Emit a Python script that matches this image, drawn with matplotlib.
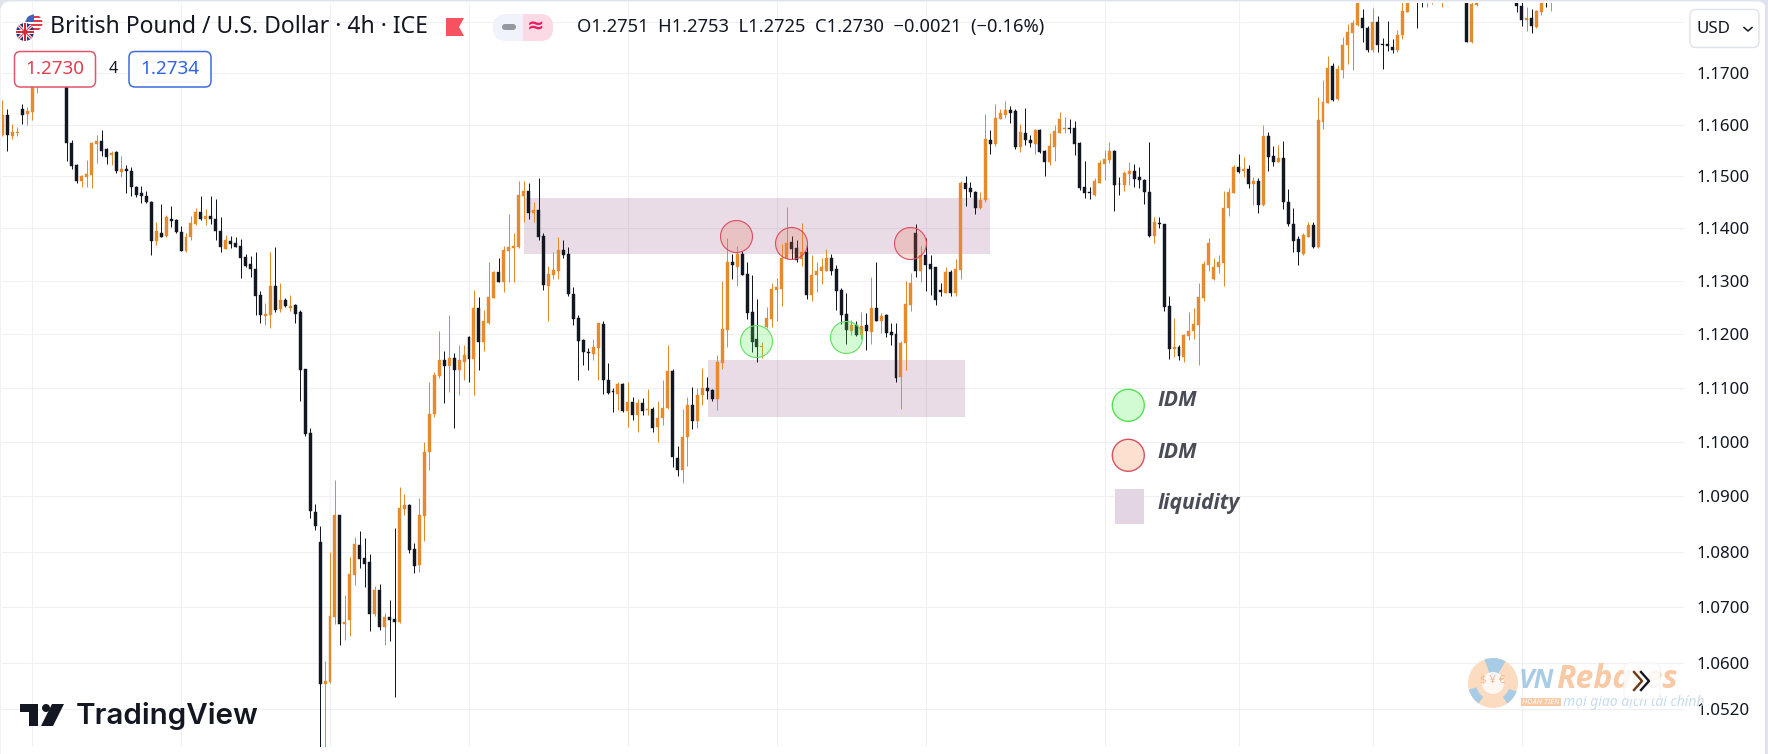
import matplotlib
matplotlib.use("Agg")
import matplotlib.pyplot as plt
from matplotlib.patches import Circle, FancyBboxPatch, Polygon, Rectangle, Wedge
from matplotlib.ticker import NullLocator, FixedLocator, FixedFormatter

opens = [
1.1579,1.1618,1.1578,1.1583,1.1630,1.1620,1.1625,1.1680,1.1705,1.1715,
1.1700,1.1710,1.1720,1.1710,1.1565,1.1521,1.1491,1.1499,1.1503,1.1563,
1.1568,1.1552,1.1541,1.1547,1.1509,1.1515,1.1510,1.1480,1.1468,1.1462,
1.1451,1.1377,1.1391,1.1386,1.1418,1.1416,1.1394,1.1357,1.1383,1.1408,
1.1431,1.1418,1.1424,1.1419,1.1396,1.1361,1.1377,1.1372,1.1367,1.1345,
1.1333,1.1323,1.1273,1.1234,1.1237,1.1291,1.1248,1.1265,1.1250,1.1255,
1.1241,1.1135,1.1017,1.0871,1.0818,1.0563,1.0567,1.0683,1.0866,1.0669,
1.0677,1.0757,1.0811,1.0788,1.0781,1.0688,1.0731,1.0664,1.0682,1.0678,
1.0673,1.0877,1.0884,1.0804,1.0776,1.0865,1.0981,1.1051,1.1122,1.1151,
1.1140,1.1156,1.1133,1.1149,1.1195,1.1154,1.1250,1.1186,1.1221,1.1269,
1.1318,1.1299,1.1358,1.1363,1.1365,1.1463,1.1471,1.1429,1.1435,1.1386,
1.1290,1.1311,1.1320,1.1359,1.1351,1.1276,1.1231,1.1190,1.1166,1.1163,
1.1175,1.1220,1.1115,1.1095,1.1088,1.1108,1.1057,1.1074,1.1049,1.1072,
1.1059,1.1060,1.1028,1.1044,1.1062,1.1132,1.0971,1.0949,1.1009,1.1069,
1.1039,1.1086,1.1100,1.1096,1.1079,1.1147,1.1208,1.1336,1.1327,1.1352,
1.1314,1.1241,1.1191,1.1176,1.1213,1.1229,1.1283,1.1286,1.1343,1.1374,
1.1363,1.1341,1.1356,1.1274,1.1311,1.1319,1.1320,1.1343,1.1323,1.1284,
1.1238,1.1206,1.1217,1.1199,1.1217,1.1205,1.1249,1.1224,1.1236,1.1204,
1.1200,1.1121,1.1183,1.1255,1.1391,1.1319,1.1350,1.1332,1.1326,1.1284,
1.1278,1.1318,1.1277,1.1321,1.1487,1.1478,1.1470,1.1439,1.1455,1.1571,
1.1563,1.1610,1.1618,1.1628,1.1626,1.1557,1.1583,1.1571,1.1563,1.1589,
1.1549,1.1528,1.1557,1.1584,1.1592,1.1593,1.1593,1.1565,1.1479,1.1469,
1.1464,1.1488,1.1523,1.1531,1.1549,1.1486,1.1483,1.1504,1.1510,1.1498,
1.1493,1.1470,1.1385,1.1411,1.1408,1.1253,1.1173,1.1177,1.1158,1.1197,
1.1206,1.1218,1.1268,1.1331,1.1304,1.1326,1.1334,1.1440,1.1468,1.1517,
1.1510,1.1514,1.1485,1.1491,1.1444,1.1578,1.1539,1.1528,1.1535,1.1451,
1.1409,1.1380,1.1352,1.1384,1.1406,1.1364,1.1605,1.1642,1.1714,1.1649,
1.1707,1.1755,1.1780,1.1795,1.1809,1.1789,1.1746,1.1801,1.1757,1.1758,
1.1751,1.1746,1.1776,1.1821,1.1850,1.1870,1.1868,1.1850,1.1860,1.1870,
1.1880,1.1895,1.1880,1.1870,1.1885,1.1875,1.1761,1.1834,1.1842,1.1860,
1.1870,1.1860,1.1875,1.1865,1.1855,1.1838,1.1833,1.1804,1.1808,1.1791,
1.1820,1.1850,1.1845]
highs = [
1.1648,1.1631,1.1602,1.1596,1.1640,1.1635,1.1700,1.1720,1.1730,1.1735,
1.1725,1.1735,1.1738,1.1720,1.1571,1.1524,1.1503,1.1531,1.1567,1.1580,
1.1589,1.1554,1.1549,1.1549,1.1539,1.1522,1.1517,1.1481,1.1481,1.1471,
1.1452,1.1413,1.1447,1.1426,1.1443,1.1419,1.1404,1.1391,1.1423,1.1440,
1.1462,1.1437,1.1462,1.1456,1.1421,1.1387,1.1386,1.1383,1.1380,1.1352,
1.1347,1.1356,1.1281,1.1258,1.1355,1.1365,1.1297,1.1268,1.1274,1.1256,
1.1245,1.1135,1.1025,1.0887,1.0846,1.0604,1.0800,1.0931,1.0867,1.0722,
1.0790,1.0827,1.0838,1.0825,1.0795,1.0738,1.0741,1.0689,1.0713,1.0842,
1.0917,1.0904,1.0887,1.0816,1.0898,1.1000,1.1110,1.1129,1.1206,1.1169,
1.1236,1.1165,1.1180,1.1180,1.1196,1.1284,1.1270,1.1246,1.1336,1.1320,
1.1343,1.1367,1.1428,1.1391,1.1491,1.1490,1.1488,1.1451,1.1496,1.1391,
1.1328,1.1356,1.1383,1.1379,1.1365,1.1289,1.1236,1.1192,1.1175,1.1191,
1.1222,1.1225,1.1146,1.1100,1.1110,1.1109,1.1111,1.1083,1.1079,1.1082,
1.1097,1.1064,1.1075,1.1115,1.1179,1.1135,1.0992,1.1060,1.1083,1.1101,
1.1099,1.1136,1.1120,1.1097,1.1162,1.1301,1.1381,1.1351,1.1366,1.1357,
1.1336,1.1311,1.1267,1.1186,1.1252,1.1296,1.1306,1.1370,1.1441,1.1386,
1.1378,1.1410,1.1370,1.1349,1.1337,1.1343,1.1360,1.1351,1.1330,1.1287,
1.1277,1.1227,1.1224,1.1241,1.1239,1.1307,1.1337,1.1239,1.1238,1.1221,
1.1222,1.1188,1.1301,1.1315,1.1408,1.1366,1.1382,1.1350,1.1327,1.1296,
1.1326,1.1322,1.1342,1.1490,1.1501,1.1489,1.1471,1.1469,1.1620,1.1589,
1.1640,1.1631,1.1646,1.1636,1.1631,1.1602,1.1633,1.1579,1.1592,1.1592,
1.1551,1.1583,1.1599,1.1624,1.1614,1.1610,1.1606,1.1567,1.1529,1.1480,
1.1496,1.1531,1.1551,1.1567,1.1551,1.1499,1.1511,1.1527,1.1524,1.1517,
1.1495,1.1567,1.1421,1.1421,1.1409,1.1271,1.1231,1.1180,1.1200,1.1242,
1.1250,1.1296,1.1338,1.1381,1.1343,1.1350,1.1471,1.1477,1.1521,1.1543,
1.1538,1.1521,1.1498,1.1496,1.1599,1.1586,1.1559,1.1560,1.1568,1.1475,
1.1440,1.1386,1.1391,1.1413,1.1413,1.1653,1.1687,1.1733,1.1720,1.1716,
1.1771,1.1797,1.1805,1.1842,1.1826,1.1793,1.1828,1.1813,1.1769,1.1802,
1.1767,1.1786,1.1842,1.1842,1.1880,1.1885,1.1880,1.1880,1.1885,1.1900,
1.1905,1.1910,1.1900,1.1895,1.1900,1.1885,1.1842,1.1842,1.1870,1.1880,
1.1890,1.1880,1.1895,1.1885,1.1875,1.1860,1.1850,1.1830,1.1826,1.1825,
1.1850,1.1870,1.1870]
lows = [
1.1578,1.1549,1.1572,1.1578,1.1601,1.1599,1.1608,1.1662,1.1690,1.1695,
1.1685,1.1695,1.1700,1.1529,1.1515,1.1487,1.1480,1.1480,1.1478,1.1525,
1.1539,1.1524,1.1522,1.1507,1.1499,1.1467,1.1462,1.1461,1.1449,1.1449,
1.1350,1.1369,1.1383,1.1384,1.1403,1.1391,1.1357,1.1355,1.1379,1.1406,
1.1416,1.1406,1.1408,1.1379,1.1355,1.1360,1.1362,1.1364,1.1305,1.1327,
1.1307,1.1236,1.1221,1.1218,1.1211,1.1241,1.1242,1.1251,1.1243,1.1222,
1.1075,1.1010,1.0861,1.0839,1.0452,1.0452,1.0565,1.0670,1.0632,1.0642,
1.0649,1.0739,1.0771,1.0736,1.0658,1.0685,1.0660,1.0632,1.0640,1.0540,
1.0672,1.0866,1.0798,1.0761,1.0763,1.0820,1.0948,1.1046,1.1119,1.1071,
1.1093,1.1025,1.1086,1.1115,1.1110,1.1086,1.1134,1.1169,1.1219,1.1268,
1.1298,1.1280,1.1299,1.1299,1.1362,1.1413,1.1418,1.1413,1.1378,1.1284,
1.1225,1.1304,1.1304,1.1344,1.1271,1.1218,1.1114,1.1143,1.1134,1.1151,
1.1115,1.1089,1.1088,1.1055,1.1058,1.1056,1.1028,1.1041,1.1019,1.1050,
1.1050,1.1018,1.0999,1.1031,1.1061,1.0954,1.0937,1.0924,1.0955,1.1024,
1.1025,1.1069,1.1079,1.1076,1.1058,1.1135,1.1177,1.1304,1.1290,1.1311,
1.1229,1.1166,1.1149,1.1155,1.1211,1.1214,1.1224,1.1253,1.1342,1.1342,
1.1336,1.1329,1.1266,1.1262,1.1279,1.1295,1.1319,1.1311,1.1245,1.1220,
1.1182,1.1199,1.1196,1.1191,1.1170,1.1182,1.1224,1.1202,1.1195,1.1179,
1.1110,1.1060,1.1133,1.1243,1.1307,1.1298,1.1281,1.1273,1.1255,1.1271,
1.1277,1.1272,1.1272,1.1304,1.1443,1.1460,1.1428,1.1437,1.1450,1.1543,
1.1559,1.1610,1.1613,1.1603,1.1553,1.1547,1.1560,1.1556,1.1543,1.1544,
1.1501,1.1521,1.1530,1.1583,1.1583,1.1584,1.1541,1.1474,1.1458,1.1456,
1.1462,1.1487,1.1493,1.1525,1.1434,1.1464,1.1471,1.1483,1.1480,1.1477,
1.1447,1.1384,1.1373,1.1400,1.1243,1.1154,1.1157,1.1151,1.1149,1.1189,
1.1191,1.1142,1.1262,1.1320,1.1303,1.1316,1.1290,1.1424,1.1467,1.1507,
1.1499,1.1478,1.1444,1.1429,1.1443,1.1511,1.1520,1.1527,1.1438,1.1404,
1.1355,1.1331,1.1350,1.1383,1.1362,1.1362,1.1592,1.1641,1.1645,1.1648,
1.1690,1.1718,1.1706,1.1793,1.1762,1.1741,1.1741,1.1741,1.1709,1.1743,
1.1739,1.1741,1.1768,1.1820,1.1845,1.1789,1.1831,1.1830,1.1836,1.1860,
1.1831,1.1870,1.1860,1.1855,1.1860,1.1762,1.1759,1.1833,1.1840,1.1850,
1.1855,1.1850,1.1860,1.1850,1.1845,1.1820,1.1792,1.1784,1.1779,1.1789,
1.1814,1.1831,1.1823]
closes = [
1.1618,1.1579,1.1585,1.1585,1.1618,1.1626,1.1680,1.1705,1.1715,1.1700,
1.1710,1.1720,1.1705,1.1565,1.1519,1.1491,1.1500,1.1504,1.1565,1.1569,
1.1549,1.1538,1.1545,1.1510,1.1515,1.1511,1.1480,1.1464,1.1462,1.1451,
1.1377,1.1395,1.1384,1.1421,1.1415,1.1394,1.1358,1.1383,1.1410,1.1432,
1.1419,1.1424,1.1418,1.1396,1.1365,1.1378,1.1370,1.1365,1.1343,1.1329,
1.1323,1.1271,1.1236,1.1238,1.1291,1.1246,1.1265,1.1254,1.1254,1.1238,
1.1133,1.1014,1.0873,1.0846,1.0563,1.0568,1.0684,1.0866,1.0669,1.0674,
1.0760,1.0813,1.0786,1.0778,1.0688,1.0731,1.0664,1.0682,1.0677,1.0674,
1.0879,1.0884,1.0803,1.0774,1.0866,1.0982,1.1052,1.1123,1.1151,1.1141,
1.1156,1.1133,1.1152,1.1162,1.1154,1.1250,1.1186,1.1224,1.1270,1.1318,
1.1299,1.1359,1.1364,1.1367,1.1464,1.1472,1.1429,1.1435,1.1383,1.1293,
1.1314,1.1322,1.1359,1.1349,1.1276,1.1229,1.1188,1.1167,1.1164,1.1176,
1.1221,1.1114,1.1091,1.1093,1.1108,1.1057,1.1074,1.1049,1.1072,1.1057,
1.1060,1.1026,1.1044,1.1063,1.1132,1.0972,1.0949,1.1009,1.1069,1.1038,
1.1087,1.1099,1.1094,1.1079,1.1149,1.1209,1.1336,1.1330,1.1351,1.1312,
1.1239,1.1186,1.1177,1.1178,1.1230,1.1286,1.1288,1.1343,1.1373,1.1361,
1.1340,1.1355,1.1274,1.1312,1.1320,1.1326,1.1343,1.1320,1.1282,1.1236,
1.1208,1.1217,1.1199,1.1216,1.1207,1.1249,1.1224,1.1234,1.1203,1.1199,
1.1118,1.1183,1.1257,1.1296,1.1320,1.1350,1.1331,1.1323,1.1265,1.1279,
1.1318,1.1277,1.1323,1.1487,1.1476,1.1469,1.1439,1.1455,1.1572,1.1562,
1.1612,1.1623,1.1628,1.1623,1.1557,1.1585,1.1570,1.1565,1.1589,1.1546,
1.1528,1.1558,1.1587,1.1610,1.1593,1.1592,1.1563,1.1477,1.1467,1.1467,
1.1491,1.1525,1.1533,1.1549,1.1483,1.1485,1.1507,1.1510,1.1494,1.1492,
1.1470,1.1385,1.1413,1.1408,1.1252,1.1173,1.1177,1.1159,1.1199,1.1206,
1.1219,1.1270,1.1332,1.1372,1.1326,1.1337,1.1440,1.1470,1.1517,1.1509,
1.1514,1.1485,1.1491,1.1445,1.1578,1.1538,1.1528,1.1535,1.1451,1.1408,
1.1377,1.1355,1.1387,1.1406,1.1364,1.1608,1.1643,1.1710,1.1647,1.1709,
1.1756,1.1781,1.1799,1.1838,1.1789,1.1746,1.1801,1.1756,1.1756,1.1754,
1.1746,1.1776,1.1823,1.1840,1.1865,1.1855,1.1855,1.1868,1.1875,1.1890,
1.1895,1.1880,1.1870,1.1885,1.1875,1.1762,1.1836,1.1840,1.1860,1.1870,
1.1860,1.1875,1.1865,1.1855,1.1850,1.1832,1.1804,1.1808,1.1792,1.1823,
1.1838,1.1845,1.1860]

price_ticks = [1.18,1.17,1.16,1.15,1.14,1.13,1.12,1.11,1.10,1.09,1.08,1.07,1.06,1.052]
price_labels = ['','1.1700','1.1600','1.1500','1.1400','1.1300','1.1200','1.1100',
                '1.1000','1.0900','1.0800','1.0700','1.0600','1.0520']
time_grid = [6,36,66,94,126,156,186,222,249,276,306]

# (bar start, bar end, price low, price high)
zone_upper = (105.1, 198.9, 1.1352, 1.1458)
zone_lower = (142.2, 193.9, 1.1046, 1.1152)
red_bar, red_price = [147.8,158.9,182.9], [1.1385,1.1372,1.1372]
green_bar, green_price = [151.9,170.0], [1.1187,1.1194]

UP, DOWN = '#e68a2e', '#131722'
FONT = ['Noto Sans','DejaVu Sans']
W, H = 1768, 754
fig = plt.figure(figsize=(W/100, H/100), dpi=100, facecolor='#e0e3eb')

bg = fig.add_axes([0,0,1,1], zorder=0); bg.set_xlim(0,W); bg.set_ylim(H,0); bg.axis('off')
bg.add_patch(FancyBboxPatch((6,7),1755,H+20,boxstyle='round,pad=0,rounding_size=4',
                            mutation_aspect=1,fc='white',ec='white',lw=8))
bg.add_patch(Rectangle((1765,0),3,H,fc='#e0e3eb',ec='none',zorder=5))

L,R,T,B = 2,1684,3,747
ax = fig.add_axes([L/W,1-B/H,(R-L)/W,(B-T)/H], zorder=1)
ax.patch.set_alpha(0)
ax.set_yscale('log')
ax.set_ylim(1.04525,1.18384)
ax.set_xlim((L-2.3)/4.965,(R-2.3)/4.965)
ax.yaxis.set_major_locator(FixedLocator(price_ticks))
ax.yaxis.set_major_formatter(FixedFormatter(price_labels))
ax.yaxis.set_minor_locator(NullLocator())
ax.yaxis.tick_right()
ax.set_xticks(time_grid); ax.set_xticklabels([])
ax.tick_params(axis='both',length=0)
ax.tick_params(axis='y',pad=9,labelsize=12.2,labelcolor='#131722')
for t in ax.get_yticklabels(): t.set_family(FONT)
ax.grid(True,color='#eef0f4',lw=0.8,zorder=0)
ax.set_axisbelow(True)
for s in ax.spines.values(): s.set_visible(False)

for z in (zone_upper,zone_lower):
    ax.add_patch(Rectangle((z[0],z[2]),z[1]-z[0],z[3]-z[2],fc=(0.56,0.27,0.50,0.19),ec='none',zorder=1))

xs = list(range(len(opens)))
cols = [UP if c>o else DOWN for o,c in zip(opens,closes)]
ax.vlines(xs,lows,highs,colors=cols,lw=0.72,zorder=2)
ax.bar(xs,[abs(c-o) for o,c in zip(opens,closes)],bottom=[min(o,c) for o,c in zip(opens,closes)],
       width=0.6,color=cols,edgecolor=cols,lw=0.3,zorder=3)
ax.scatter(red_bar,red_price,s=530,fc=(0.93,0.42,0.28,0.22),ec='#de4a60',lw=0.8,zorder=4)
ax.scatter(green_bar,green_price,s=530,fc=(0.35,0.95,0.35,0.25),ec='#62e062',lw=0.8,zorder=4)

# pixel overlay for the application chrome
ov = fig.add_axes([0,0,1,1], zorder=3); ov.set_xlim(0,W); ov.set_ylim(H,0); ov.axis('off'); ov.patch.set_alpha(0)
def txt(x,y,s,size,color='#131722',ha='left',**k):
    k.setdefault('family',FONT)
    return ov.text(x,y,s,fontsize=size,color=color,ha=ha,va='center',**k)
def box(x0,y0,x1,y1,r,fc,ec='none',lw=1,z=2,alpha=None):
    p=FancyBboxPatch((x0,y0),x1-x0,y1-y0,boxstyle=f'round,pad=0,rounding_size={r}',fc=fc,ec=ec,lw=lw,zorder=z,alpha=alpha)
    ov.add_patch(p); return p

# flags
gb=Circle((25,32),9,fc='#22397a',ec='none',zorder=3); ov.add_patch(gb)
for dx,dy,c,w in [(9,9,'white',3),(9,-9,'white',3),(9,0,'white',4),(0,9,'white',4),(9,9,'#d8263a',1),(9,-9,'#d8263a',1),(9,0,'#d8263a',2),(0,9,'#d8263a',2)]:
    l,=ov.plot([25-dx,25+dx],[32-dy,32+dy],color=c,lw=w*0.72,zorder=4,solid_capstyle='butt'); l.set_clip_path(gb)
us=Circle((34,23),8.5,fc='white',ec='none',zorder=2); ov.add_patch(us)
for yy in (16,20,24,28):
    r=Rectangle((25,yy),18,2,fc='#e0384c',ec='none',zorder=2.1); ov.add_patch(r); r.set_clip_path(us)
r=Rectangle((25,14),9,8,fc='#3a66c0',ec='none',zorder=2.2); ov.add_patch(r); r.set_clip_path(us)

txt(50,27,'British Pound / U.S. Dollar · 4h · ICE',16.5,color='#131722')
ov.add_patch(Polygon([(446,18),(464,18),(459,27),(464,36),(446,36)],fc='#f7525f',ec='none'))
# pill
box(493,14,553,41,13,'#f0f3fa')
pk=box(493,14,553,41,13,'#fbd9e5'); pk.set_clip_path(Rectangle((523,0),40,60,transform=ov.transData))
box(502,24,516,30,3,'#9598a1',z=3)
txt(536,27,'≈',15,color='#e91e63',ha='center',fontweight='bold')
txt(577,27,'O1.2751  H1.2753  L1.2725  C1.2730  −0.0021  (−0.16%)',13.2,color='#131722')
# badges
box(14.5,51.5,95.5,87,6,'white','#e0566a',1.1,z=6)
box(129,51.5,211,87,6,'white','#3f6bdb',1.1,z=6)
txt(55,69,'1.2730',13.6,color='#e0404f',ha='center',zorder=7)
txt(113,69,'4',11.5,ha='center',zorder=7)
txt(170,69,'1.2734',13.6,color='#2f62ea',ha='center',zorder=7)
# USD
box(1690,9.5,1759,47.5,6,'white','#e0e3eb',1,z=4)
txt(1696,29,'USD',12.2,zorder=5)
ov.plot([1744,1748,1752],[27.5,31,27.5],color='#131722',lw=1.1,zorder=5)
# legend
ov.add_patch(Circle((1128.3,405.3),16,fc='#d2fbd2',ec='#55e055',lw=1))
ov.add_patch(Circle((1128.3,455.3),16,fc='#fde0cf',ec='#d9505f',lw=1))
ov.add_patch(Rectangle((1115,489),29,35,fc='#e3d6e2',ec='none'))
for y,s in [(400,'IDM'),(453,'IDM'),(503,'liquidity')]:
    txt(1157.5,y,s,15.2,color='#4a4c58',style='italic',fontweight='bold',family=['Open Sans','DejaVu Sans'])
# TradingView logo
ov.add_patch(Polygon([(20,704),(38,704),(38,726),(29,726),(29,712),(20,712)],fc='#131722',ec='none'))
ov.add_patch(Circle((46,708),4,fc='#131722',ec='none'))
ov.add_patch(Polygon([(52,704),(64,704),(53,726),(41,726)],fc='#131722',ec='none'))
txt(76,716,'TradingView',21.3,color='#131722',fontweight='semibold',family=['Inter','DejaVu Sans'])
# watermark
ov.add_patch(Circle((1493,683),25,fc='#fcdcc0',ec='none'))
ov.add_patch(Wedge((1493,683),25,250,300,fc='#a9cce6',ec='none'))
ov.add_patch(Wedge((1493,683),25,20,55,width=8,fc='#a9cce6',ec='none'))
ov.add_patch(Wedge((1493,683),25,125,165,width=8,fc='#a9cce6',ec='none'))
ov.add_patch(Circle((1493,683),11,fc='white',ec='none',alpha=0.8))
txt(1493,680,'$ ¥ €',8,color='#f6b78e',ha='center',fontweight='bold')
txt(1519,680,'VN',19,color='#a9cce6',style='italic',fontweight='bold',family=['Open Sans','DejaVu Sans'])
txt(1556,680,'Rebates',23,color='#f9c9a5',style='italic',fontweight='bold',family=['Open Sans','DejaVu Sans'])
ov.add_patch(Rectangle((1521,698),40,8,fc='#f9c9a5',ec='none'))
txt(1541,702,'HOÀN TIỀN',5.4,color='white',ha='center',style='italic',fontweight='bold')
txt(1563,702,'mọi giao dịch tài chính',10,color='#c6dcee',style='italic')
# scroll button
box(1624,663,1660,699,6,'white','#f2f3f5',0.8,z=6,alpha=0.85)
ov.plot([1634,1642,1634],[672,681,690],color='#6b3a12',lw=1.7,zorder=7)
ov.plot([1641,1649,1641],[672,681,690],color='#131722',lw=1.7,zorder=7)

fig.savefig('out.png',dpi=100,facecolor=fig.get_facecolor())
